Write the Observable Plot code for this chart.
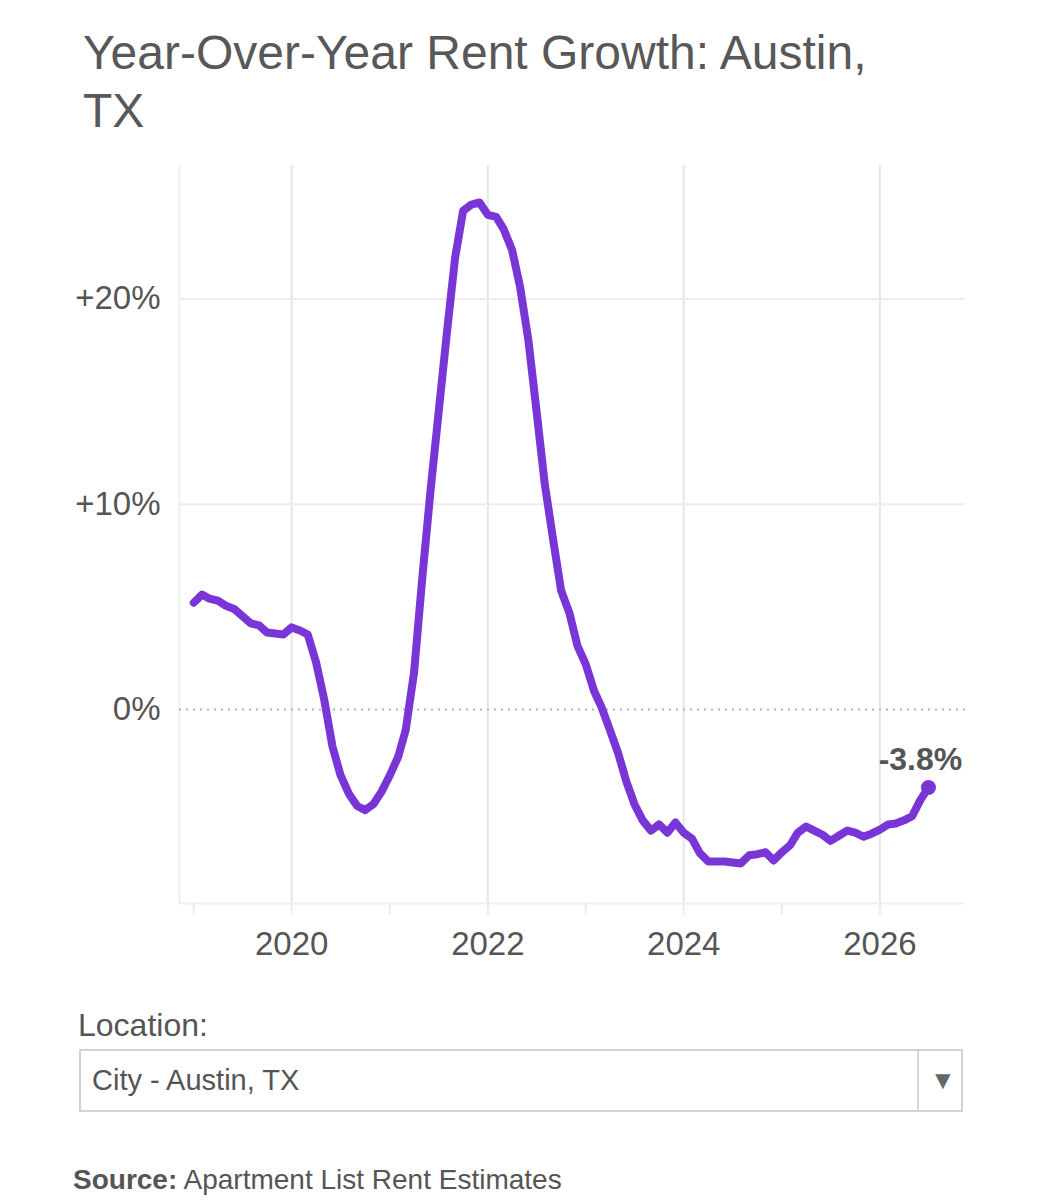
<!DOCTYPE html>
<html>
<head>
<meta charset="utf-8">
<script src="https://cdn.jsdelivr.net/npm/d3@7"></script>
<script src="https://cdn.jsdelivr.net/npm/@observablehq/plot@0.6"></script>
<style>
  html, body { margin: 0; padding: 0; background: #fff; }
  body { width: 1040px; height: 1200px; position: relative; font-family: "Liberation Sans", Arial, sans-serif; color: #555; overflow: hidden; }
  #title { position: absolute; left: 83px; top: 24px; font-size: 48px; line-height: 58px; color: #585858; margin: 0; font-weight: normal; }
  #chart { position: absolute; left: 0; top: 150px; }
  #loclabel { position: absolute; left: 78px; top: 1006px; font-size: 32px; line-height: 38px; }
  #select { position: absolute; left: 79px; top: 1049px; width: 880px; height: 59px; border: 2px solid #d2d2d2; box-sizing: content-box; }
  #select .txt { position: absolute; left: 11px; top: 0; line-height: 59px; font-size: 29px; color: #555; }
  #select .div { position: absolute; left: 836px; top: 0; width: 2px; height: 59px; background: #d8d8d8; }
  #select .arrow { position: absolute; left: 849px; top: 0; line-height: 59px; font-size: 26px; color: #666; }
  #source { position: absolute; left: 73px; top: 1163px; font-size: 28px; line-height: 34px; }
</style>
</head>
<body>
<h1 id="title">Year-Over-Year Rent Growth: Austin,<br>TX</h1>
<div id="chart"></div>
<div id="loclabel">Location:</div>
<div id="select"><span class="txt">City - Austin, TX</span><span class="div"></span><span class="arrow">▼</span></div>
<div id="source"><b>Source:</b> Apartment List Rent Estimates</div>
<script>
// Monthly year-over-year rent growth (%), Jan 2019 – Jul 2026
const startMonth = "2019-01-01";
const values = [
  5.2, 5.6, 5.4, 5.3, 5.05, 4.9, 4.55, 4.2, 4.1, 3.75, 3.7, 3.65,      // 2019
  4.0, 3.85, 3.65, 2.3, 0.5, -1.8, -3.2, -4.1, -4.7, -4.9, -4.6, -4.0, // 2020
  -3.2, -2.3, -1.0, 1.8, 6.3, 10.6, 14.4, 18.3, 22.0, 24.3, 24.6, 24.7, // 2021
  24.1, 24.0, 23.4, 22.4, 20.6, 18.0, 14.6, 11.0, 8.3, 5.8, 4.7, 3.1,  // 2022
  2.2, 0.9, 0.1, -1.0, -2.1, -3.5, -4.6, -5.4, -5.9, -5.6, -6.0, -5.5, // 2023
  -6.0, -6.3, -7.0, -7.4, -7.4, -7.4, -7.45, -7.5, -7.1, -7.05, -6.95, -7.35, // 2024
  -6.95, -6.6, -6.0, -5.7, -5.9, -6.1, -6.4, -6.15, -5.9, -6.0, -6.2, -6.05, // 2025
  -5.85, -5.6, -5.55, -5.4, -5.2, -4.4, -3.8                              // 2026
];
const xDomain = [new Date("2018-11-09"), new Date("2026-11-16")];
const yDomain = [-9.45, 26.5];
const yTicks = [0, 10, 20];
const gridYears = [2020, 2022, 2024, 2026];
const lastLabel = "-3.8%";

const start = new Date(startMonth);
const data = values.map((v, i) => ({date: d3.utcMonth.offset(start, i), value: v}));
const last = data[data.length - 1];
const purple = "#7a35d6";

const chart = Plot.plot({
  width: 1040,
  height: 820,
  marginLeft: 179,
  marginRight: 75,
  marginTop: 15,
  marginBottom: 67,
  style: {fontFamily: "Liberation Sans, Arial, sans-serif", color: "#555", background: "transparent"},
  x: {type: "utc", domain: xDomain},
  y: {domain: yDomain},
  marks: [
    Plot.ruleX(gridYears.map(y => new Date(Date.UTC(y, 0, 1))), {stroke: "#e6e6e6", strokeWidth: 2}),
    Plot.ruleY([10, 20], {stroke: "#ececec", strokeWidth: 2}),
    Plot.ruleX([xDomain[0]], {stroke: "#f0f0f0", strokeWidth: 2}),
    Plot.ruleY([yDomain[0]], {stroke: "#f0f0f0", strokeWidth: 2}),
    Plot.ruleY([0], {stroke: "#b4b4b4", strokeWidth: 2, strokeDasharray: "2,5", x1: xDomain[0], x2: xDomain[1]}),
    Plot.axisX({
      ticks: d3.utcYear.every(1),
      tickFormat: d => d.getUTCFullYear() % 2 === 0 ? String(d.getUTCFullYear()) : "",
      tickSize: 12, tickPadding: 16, stroke: "#ececec", strokeWidth: 2,
      fontSize: 33, fill: "#555", label: null
    }),
    Plot.axisY({
      ticks: yTicks,
      tickFormat: d => d === 0 ? "0%" : "+" + d + "%",
      tickSize: 0, tickPadding: 19, fontSize: 33, fill: "#555", label: null
    }),
    Plot.line(data, {x: "date", y: "value", stroke: purple, strokeWidth: 8, strokeLinejoin: "round", strokeLinecap: "round"}),
    Plot.dot([last], {x: "date", y: "value", r: 7.5, fill: purple}),
    Plot.text([last], {x: "date", y: "value", text: () => lastLabel, dx: -8, dy: -28, fontSize: 32, fontWeight: "bold", fill: "#555"})
  ]
});
document.getElementById("chart").appendChild(chart);
</script>
</body>
</html>
